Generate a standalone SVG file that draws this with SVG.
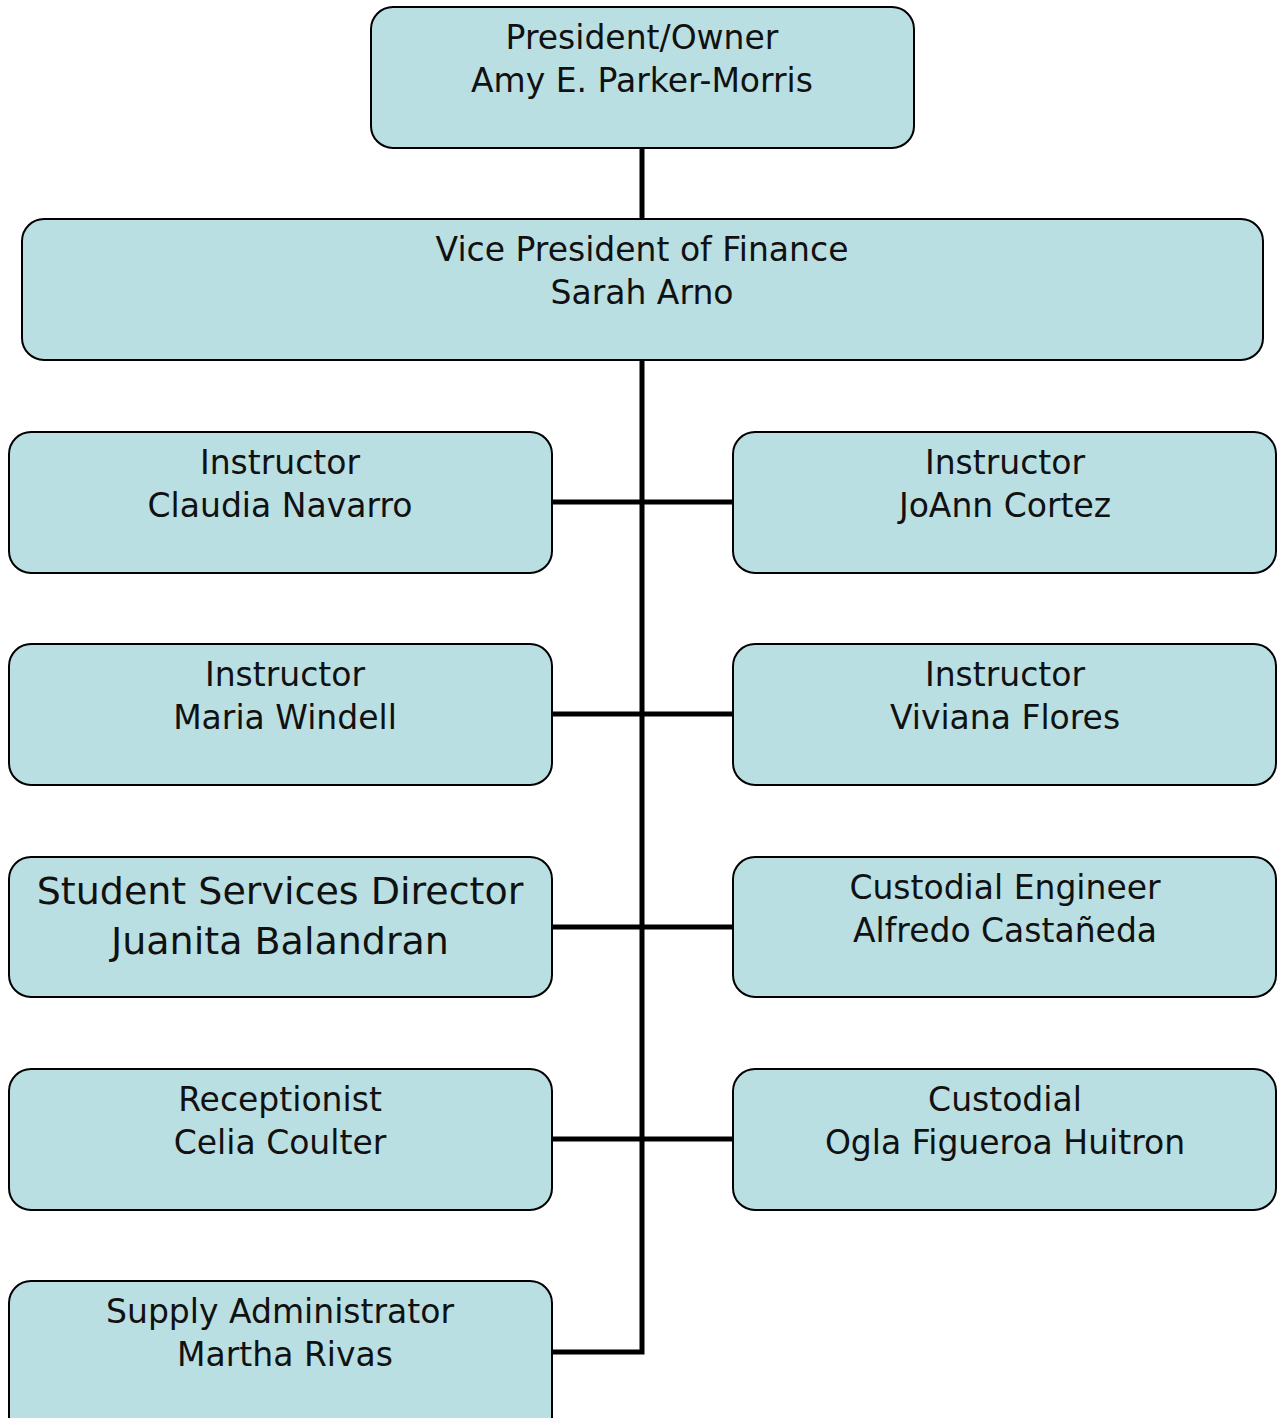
<svg xmlns="http://www.w3.org/2000/svg" width="1281" height="1418" viewBox="0 0 1281 1418">
<style>
.box{fill:#BADFE2;stroke:#000;stroke-width:2}
.t{font-family:"DejaVu Sans","Liberation Sans",sans-serif;font-size:33px;fill:#111;text-anchor:middle}
.big{font-size:38px}
.con{fill:none;stroke:#000;stroke-width:5}
</style>
<rect width="1281" height="1418" fill="#fff"/>
<g id="connectors">
<path class="con" d="M642 148V219M642 360V1352H552"/>
<path class="con" d="M552 502H733M552 714H733M552 927H733M552 1139H733"/>
</g>
<g id="president"><rect class="box" x="371" y="7" width="543" height="141" rx="22"/><text class="t" x="642" y="49">President/Owner</text><text class="t" x="642" y="92">Amy E. Parker-Morris</text></g>
<g id="vp"><rect class="box" x="22" y="219" width="1241" height="141" rx="22"/><text class="t" x="642" y="261">Vice President of Finance</text><text class="t" x="642" y="304">Sarah Arno</text></g>
<g id="navarro"><rect class="box" x="9" y="432" width="543" height="141" rx="22"/><text class="t" x="280" y="474">Instructor</text><text class="t" x="280" y="517">Claudia Navarro</text></g>
<g id="cortez"><rect class="box" x="733" y="432" width="543" height="141" rx="22"/><text class="t" x="1005" y="474">Instructor</text><text class="t" x="1005" y="517">JoAnn Cortez</text></g>
<g id="windell"><rect class="box" x="9" y="644" width="543" height="141" rx="22"/><text class="t" x="285" y="686">Instructor</text><text class="t" x="285" y="729">Maria Windell</text></g>
<g id="flores"><rect class="box" x="733" y="644" width="543" height="141" rx="22"/><text class="t" x="1005" y="686">Instructor</text><text class="t" x="1005" y="729">Viviana Flores</text></g>
<g id="balandran"><rect class="box" x="9" y="857" width="543" height="140" rx="22"/><text class="t big" x="280" y="904">Student Services Director</text><text class="t big" x="280" y="954">Juanita Balandran</text></g>
<g id="castaneda"><rect class="box" x="733" y="857" width="543" height="140" rx="22"/><text class="t" x="1005" y="899">Custodial Engineer</text><text class="t" x="1005" y="942">Alfredo Castañeda</text></g>
<g id="coulter"><rect class="box" x="9" y="1069" width="543" height="141" rx="22"/><text class="t" x="280" y="1111">Receptionist</text><text class="t" x="280" y="1154">Celia Coulter</text></g>
<g id="huitron"><rect class="box" x="733" y="1069" width="543" height="141" rx="22"/><text class="t" x="1005" y="1111">Custodial</text><text class="t" x="1005" y="1154">Ogla Figueroa Huitron</text></g>
<g id="rivas"><rect class="box" x="9" y="1281" width="543" height="160" rx="22"/><text class="t" x="280" y="1323">Supply Administrator</text><text class="t" x="285" y="1366">Martha Rivas</text></g>
</svg>
